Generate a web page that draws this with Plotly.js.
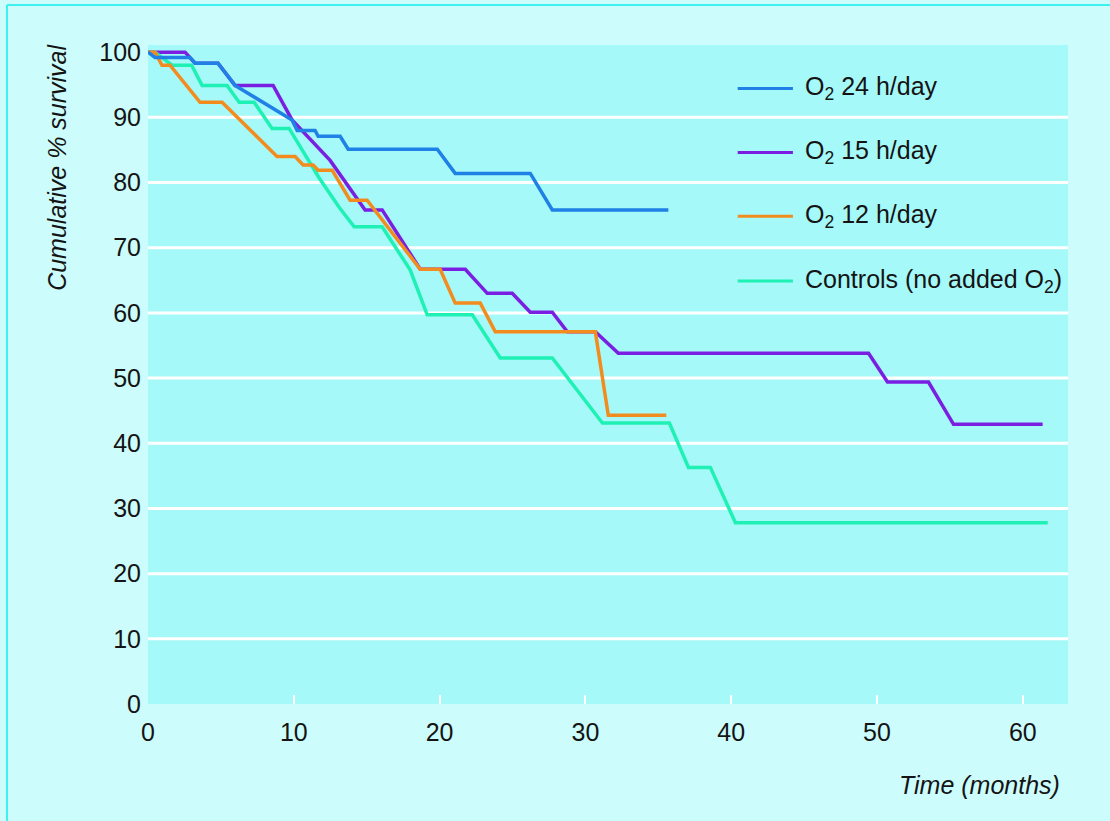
<!DOCTYPE html>
<html>
<head>
<meta charset="utf-8">
<script src="https://cdn.plot.ly/plotly-3.0.1.min.js"></script>
<style>
  html, body { margin: 0; padding: 0; background: #cdfcfc; }
  #chart { width: 1110px; height: 821px; }
</style>
</head>
<body>
<div id="chart"></div>
<script>
// Kaplan-Meier style survival curves, months vs cumulative % survival
const seriesNames = [
  "O<sub>2</sub> 24 h/day",
  "O<sub>2</sub> 15 h/day",
  "O<sub>2</sub> 12 h/day",
  "Controls (no added O<sub>2</sub>)"
];
const seriesColors = ["#1f80e6", "#7a1fe2", "#f28c1e", "#1ff0b4"];

const o2h24Months = [0, 0.48, 2.88, 3.23, 4.80, 5.97, 9.88, 10.23, 11.46, 11.67, 13.18, 13.73, 19.84, 21.07, 26.22, 27.73, 35.69];
const o2h24Survival = [100, 99.2, 99.2, 98.3, 98.3, 94.9, 89.6, 88.0, 88.0, 87.1, 87.1, 85.1, 85.1, 81.4, 81.4, 75.8, 75.8];

const o2h15Months = [0, 2.54, 3.23, 4.80, 5.97, 8.58, 9.88, 12.49, 14.89, 16.06, 18.67, 21.76, 23.27, 24.98, 26.22, 27.73, 28.76, 30.68, 32.26, 49.42, 50.72, 53.53, 55.25, 61.36];
const o2h15Survival = [100, 100, 98.3, 98.3, 94.9, 94.9, 89.6, 83.4, 75.8, 75.8, 66.7, 66.7, 63.0, 63.0, 60.1, 60.1, 57.1, 57.1, 53.8, 53.8, 49.4, 49.4, 42.9, 42.9];

const o2h12Months = [0, 0.48, 0.96, 1.51, 3.57, 5.08, 8.85, 10.09, 10.64, 11.32, 11.67, 12.63, 13.86, 15.03, 18.67, 20.04, 21.07, 22.79, 23.82, 30.68, 31.57, 35.55];
const o2h12Survival = [100, 100, 98.0, 98.0, 92.3, 92.3, 84.0, 84.0, 82.7, 82.7, 81.9, 81.9, 77.3, 77.3, 66.7, 66.7, 61.5, 61.5, 57.1, 57.1, 44.3, 44.3];

const controlMonths = [0, 0.48, 1.65, 2.99, 3.71, 5.42, 6.25, 7.28, 8.51, 9.68, 11.74, 13.11, 14.14, 16.06, 17.98, 19.15, 22.24, 24.16, 27.73, 31.17, 35.76, 37.07, 38.57, 40.29, 61.71];
const controlSurvival = [100, 100, 98.0, 98.0, 94.9, 94.9, 92.3, 92.3, 88.3, 88.3, 80.7, 76.2, 73.2, 73.2, 66.6, 59.7, 59.7, 53.1, 53.1, 43.1, 43.1, 36.3, 36.3, 27.8, 27.8];

const xTickValues = [0, 10, 20, 30, 40, 50, 60];
const yTickValues = [0, 10, 20, 30, 40, 50, 60, 70, 80, 90, 100];
const gridValues = [10, 20, 30, 40, 50, 60, 70, 80, 90];

const FONT = "'Liberation Sans', Arial, sans-serif";
const INK = "#141414";

const seriesData = [
  { x: o2h24Months, y: o2h24Survival },
  { x: o2h15Months, y: o2h15Survival },
  { x: o2h12Months, y: o2h12Survival },
  { x: controlMonths, y: controlSurvival }
];

// drawing order: purple at the bottom, blue on top
const drawOrder = [1, 3, 2, 0];
const traces = drawOrder.map(i => ({
  type: "scatter",
  mode: "lines",
  x: seriesData[i].x,
  y: seriesData[i].y,
  name: seriesNames[i],
  line: { color: seriesColors[i], width: 3.5 },
  showlegend: false,
  hoverinfo: "x+y+name"
}));

// white horizontal rules at the inner tick values, laid under the curves
const gridShapes = gridValues.map(v => ({
  type: "line", layer: "below", xref: "paper", yref: "y",
  x0: 0, x1: 1, y0: v, y1: v,
  line: { color: "#ffffff", width: 3 }
}));

// hand-drawn key: short line sample plus label per series
const keyRows = [0.934, 0.837, 0.740, 0.642];
const keyShapes = seriesNames.map((n, i) => ({
  type: "line", xref: "paper", yref: "paper",
  x0: 0.641, x1: 0.701, y0: keyRows[i], y1: keyRows[i],
  line: { color: seriesColors[i], width: 3 }
}));
const keyLabels = seriesNames.map((n, i) => ({
  xref: "paper", yref: "paper", x: 0.712, y: keyRows[i],
  xanchor: "left", yanchor: "middle", showarrow: false,
  text: n, font: { family: FONT, size: 25, color: INK }
}));

const layout = {
  width: 1110,
  height: 821,
  margin: { l: 148, r: 42, t: 45, b: 117 },
  paper_bgcolor: "#cdfcfc",
  plot_bgcolor: "#a6f9f9",
  font: { family: FONT, size: 25, color: INK },
  xaxis: {
    range: [0, 63.1],
    tickvals: xTickValues,
    ticktext: xTickValues.map(String),
    ticks: "inside",
    ticklen: 9,
    tickwidth: 2,
    tickcolor: "#ffffff",
    showgrid: false,
    zeroline: false,
    showline: false,
    ticklabelstandoff: 11,
    tickfont: { family: FONT, size: 25, color: INK }
  },
  yaxis: {
    range: [0, 101.1],
    tickvals: yTickValues,
    ticktext: yTickValues.map(String),
    ticks: "",
    showgrid: false,
    zeroline: false,
    showline: false,
    ticklabelstandoff: 6,
    tickfont: { family: FONT, size: 25, color: INK }
  },
  shapes: [
    { type: "line", xref: "paper", yref: "paper", x0: -0.1533, x1: -0.1533, y0: -0.2, y1: 1.0607,
      line: { color: "#3ef0f0", width: 2 } },
    { type: "line", xref: "paper", yref: "paper", x0: -0.1533, x1: 1.05, y0: 1.0607, y1: 1.0607,
      line: { color: "#3ef0f0", width: 2 } }
  ].concat(gridShapes, keyShapes),
  annotations: [
    { xref: "paper", yref: "paper", x: -0.099, y: 0.815, textangle: -90,
      xanchor: "center", yanchor: "middle", showarrow: false,
      text: "Cumulative % survival",
      font: { family: FONT, size: 25, style: "italic", color: INK } },
    { xref: "paper", yref: "paper", x: 0.904, y: -0.123,
      xanchor: "center", yanchor: "middle", showarrow: false,
      text: "Time (months)",
      font: { family: FONT, size: 25, style: "italic", color: INK } }
  ].concat(keyLabels)
};

Plotly.newPlot("chart", traces, layout, { displayModeBar: false, staticPlot: true });
</script>
</body>
</html>
